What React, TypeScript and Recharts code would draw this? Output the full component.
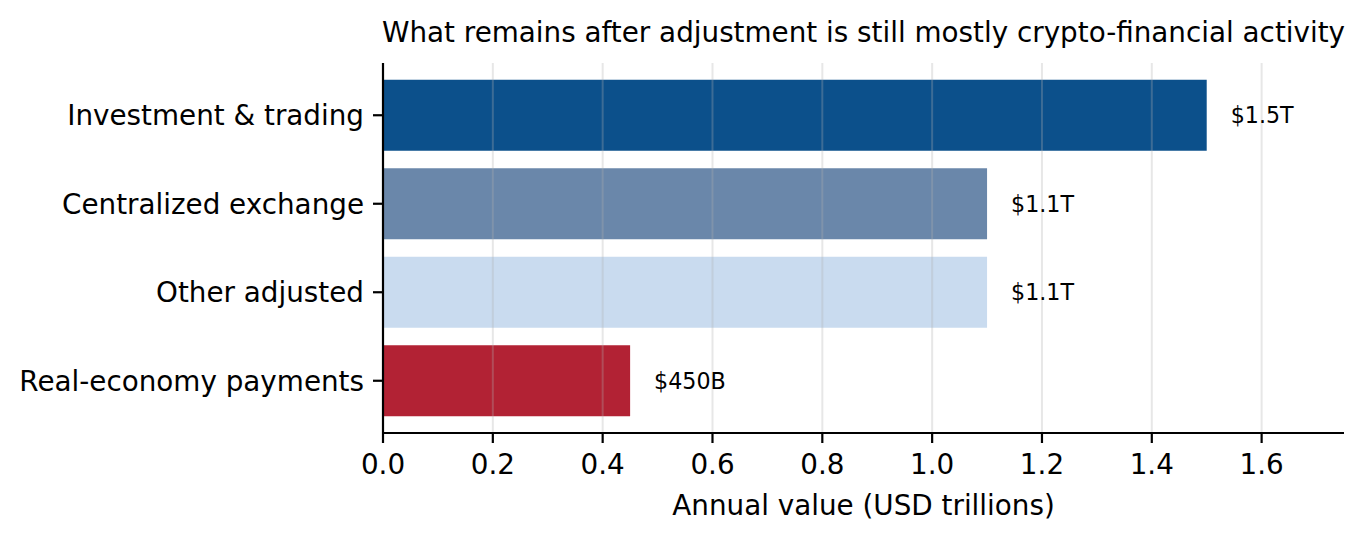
import {
  BarChart,
  Bar,
  XAxis,
  YAxis,
  Cell,
  LabelList,
  ReferenceLine,
} from "recharts";

const categories = [
  "Investment & trading",
  "Centralized exchange",
  "Other adjusted",
  "Real-economy payments",
];
const values = [1.5, 1.1, 1.1, 0.45];
const valueLabels = ["$1.5T", "$1.1T", "$1.1T", "$450B"];
const barColors = ["#0c508b", "#6a87aa", "#c9dbef", "#b22234"];
const xTicks = [0, 0.2, 0.4, 0.6, 0.8, 1.0, 1.2, 1.4, 1.6];

const data = categories.map((name, i) => ({
  name,
  value: values[i],
  label: valueLabels[i],
}));

const TICK_FONT = 27.8;

const App = () => {
  return (
    <div
      style={{
        position: "absolute",
        left: 0,
        top: 0,
        fontFamily: "'DejaVu Sans', sans-serif",
        background: "#fff",
      }}
    >
      <BarChart
        width={1365}
        height={540}
        data={data}
        layout="vertical"
        margin={{ top: 63, right: 21, bottom: 0, left: 0 }}
        barCategoryGap="10%"
      >
        <XAxis
          type="number"
          domain={[0, 1.75]}
          ticks={xTicks}
          tickFormatter={(v: number) => v.toFixed(1)}
          allowDataOverflow
          height={107}
          tickSize={10}
          tickMargin={11}
          tick={{ fill: "#000", fontSize: TICK_FONT }}
          axisLine={{ stroke: "#000", strokeWidth: 2.2 }}
          tickLine={{ stroke: "#000", strokeWidth: 2.2 }}
          label={{
            value: "Annual value (USD trillions)",
            position: "insideBottom",
            offset: 25,
            fill: "#000",
            fontSize: TICK_FONT,
          }}
        />
        <YAxis
          type="category"
          dataKey="name"
          width={383}
          padding={{ top: 8, bottom: 8 }}
          tickSize={10}
          tickMargin={9}
          tick={{ fill: "#000", fontSize: TICK_FONT, dy: "0.43em" }}
          axisLine={{ stroke: "#000", strokeWidth: 2.2 }}
          tickLine={{ stroke: "#000", strokeWidth: 2.2 }}
        />
        <Bar dataKey="value" isAnimationActive={false}>
          {data.map((d, i) => (
            <Cell key={d.name} fill={barColors[i]} />
          ))}
          <LabelList
            dataKey="label"
            position="right"
            offset={24}
            fill="#000"
            fontSize={22.2}
          />
        </Bar>
        {xTicks.slice(1).map((t) => (
          <ReferenceLine
            key={t}
            x={t}
            stroke="#b0b0b0"
            strokeOpacity={0.3}
            strokeWidth={2}
          />
        ))}
        <text
          x={863.5}
          y={42}
          textAnchor="middle"
          fontSize={TICK_FONT}
          fill="#000"
        >
          What remains after adjustment is still mostly crypto-financial activity
        </text>
      </BarChart>
    </div>
  );
};

export default App;
